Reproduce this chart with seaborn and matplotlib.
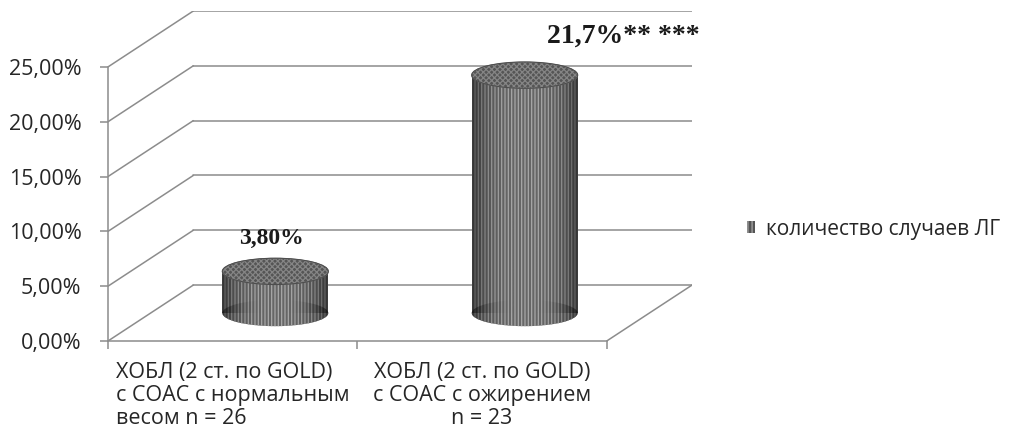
import numpy as np
import pandas as pd
import seaborn as sns
import matplotlib
matplotlib.use("Agg")
import matplotlib.pyplot as plt
from matplotlib.patches import Ellipse, Patch
from matplotlib.ticker import FuncFormatter

# --- data -------------------------------------------------------------
categories = [
    "ХОБЛ (2 ст. по GOLD)\nс СОАС с нормальным\nвесом n = 26",
    "ХОБЛ (2 ст. по GOLD)\nс СОАС с ожирением\nn = 23",
]
values = [3.8, 21.7]                      # percent
value_labels = ["3,80%", "21,7%** ***"]
series_name = "количество случаев ЛГ"
y_ticks = [0, 5, 10, 15, 20, 25]

# --- style ------------------------------------------------------------
sns.set_theme(style="white")
plt.rcParams["font.family"] = ["Open Sans", "DejaVu Sans"]
plt.rcParams["hatch.linewidth"] = 0.9

W, H = 1014, 430
fig = plt.figure(figsize=(W / 100, H / 100), dpi=100)

# pixel frame of the plotting box (front-left corner and back-top)
x_left, x_right = 108, 692
y_bottom, y_top = 341, 11
pos = [x_left / W, 1 - y_bottom / H, (x_right - x_left) / W, (y_bottom - y_top) / H]

dx = 0.342      # depth shift in category units
dz = 5.1        # depth shift in percent units
grid_c = "#8c8c8c"
text_c = "#262626"

ax = fig.add_axes(pos)
ax.set_xlim(-0.5, 1.5 + dx)
ax.set_ylim(0, 25 + dz)
ax.patch.set_alpha(0)

# back wall gridlines and side wall diagonals
for v in y_ticks:
    ax.plot([-0.5 + dx, 1.5 + dx], [v + dz, v + dz], color=grid_c, lw=1.1, zorder=1)
    ax.plot([-0.5, -0.5 + dx], [v, v + dz], color=grid_c, lw=1.1, zorder=1)
# right floor edge
ax.plot([1.5, 1.5 + dx], [0, dz], color=grid_c, lw=1.1, zorder=1)

for s in ["top", "right"]:
    ax.spines[s].set_visible(False)
for s in ["left", "bottom"]:
    ax.spines[s].set_color(grid_c)
    ax.spines[s].set_linewidth(1.1)
ax.spines["left"].set_bounds(0, 25)
ax.spines["bottom"].set_bounds(-0.5, 1.5)

ax.set_yticks(y_ticks)
ax.yaxis.set_major_formatter(FuncFormatter(lambda v, p: f"{v:.2f}%".replace(".", ",")))
ax.tick_params(axis="y", left=True, length=6, width=1.1, color=grid_c,
               pad=13, labelsize=15.5, labelcolor=text_c)

ax.set_xticks([0, 1])
ax.set_xticks([-0.5, 0.5, 1.5], minor=True)
ax.set_xticklabels(categories)
ax.tick_params(axis="x", which="major", bottom=False, length=0, pad=15,
               labelsize=15.5, labelcolor=text_c)
ax.tick_params(axis="x", which="minor", bottom=True, length=6, width=1.1, color=grid_c)
for lab in ax.get_xticklabels():
    lab.set_linespacing(1.12)
ax.get_xticklabels()[0].set_multialignment("left")
ax.get_xticklabels()[1].set_multialignment("center")

# --- cylinders, drawn in a plane halfway into the depth -----------------
ax2 = fig.add_axes(pos)
df = pd.DataFrame({"group": categories, "value": values})
sns.barplot(data=df, x="group", y="value", width=0.425, color="#666666",
            ax=ax2, saturation=1, zorder=3)
ax2.set_xlim(-0.5 - dx / 2, 1.5 + dx / 2)
ax2.set_ylim(-dz / 2, 25 + dz / 2)
ax2.axis("off")
ax2.patch.set_alpha(0)

ell_h = 2.4
shade = np.linspace(-1, 1, 200)
shade = (0.5 * np.abs(shade) ** 3)[None, :]
shade_cmap = matplotlib.colors.LinearSegmentedColormap.from_list(
    "edge", [(0, 0, 0, 0), (0, 0, 0, 1)])

for bar, txt in zip(ax2.patches, value_labels):
    cx = bar.get_x() + bar.get_width() / 2
    w = bar.get_width()
    top = bar.get_height()
    bar.set_hatch("|||||")
    bar.set_edgecolor("#a8a8a8")
    bar.set_linewidth(0)

    bottom = Ellipse((cx, 0), w, ell_h, facecolor="#666666", edgecolor="#a8a8a8",
                     hatch="|||||", lw=0, zorder=2.9)
    ax2.add_patch(bottom)

    for clip in (bar, bottom):
        im = ax2.imshow(shade, cmap=shade_cmap, vmin=0, vmax=1, aspect="auto",
                        extent=[cx - w / 2, cx + w / 2, -ell_h, top],
                        zorder=3.05, interpolation="bilinear")
        im.set_clip_path(clip)

    cap = Ellipse((cx, top), w, ell_h, facecolor="#555555", edgecolor="#858585",
                  hatch="xxxxxx", lw=0.6, zorder=3.2)
    ax2.add_patch(cap)
    ax2.add_patch(Ellipse((cx, top), w, ell_h, facecolor="none",
                          edgecolor="#4d4d4d", lw=0.8, zorder=3.3))

    if top < 10:
        off = (-3, 24)
    else:
        off = (71, 28)
    ax2.annotate(txt, xy=(cx, top), xytext=off, textcoords="offset points",
                 ha="center", va="center", fontsize=20 if top >= 10 else 17,
                 fontweight="bold", family=["Liberation Serif", "DejaVu Serif"],
                 color="#1a1a1a", zorder=5)
ax2.set_xlim(-0.5 - dx / 2, 1.5 + dx / 2)
ax2.set_ylim(-dz / 2, 25 + dz / 2)

# --- legend -------------------------------------------------------------
handle = Patch(facecolor="#555555", edgecolor="#a8a8a8", hatch="||||", lw=0)
fig.legend(handles=[handle], labels=[series_name], loc="center left",
           bbox_to_anchor=(747 / W, 1 - 229 / H), frameon=False,
           handlelength=0.4, handleheight=0.55, handletextpad=0.5,
           borderpad=0, borderaxespad=0,
           prop={"size": 15, "family": ["Open Sans", "DejaVu Sans"]},
           labelcolor=text_c)

fig.savefig("out.png", dpi=100)
